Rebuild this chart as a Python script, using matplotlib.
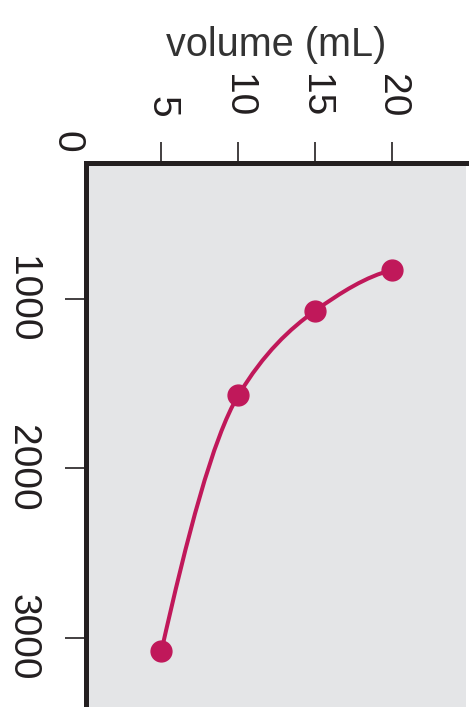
import matplotlib.pyplot as plt
from matplotlib.path import Path
from matplotlib.patches import PathPatch

plt.rcParams['font.family'] = ['Liberation Sans', 'DejaVu Sans']

# Boyle's law readings
volume = [5, 10, 15, 20]           # mL
pressure = [3080, 1570, 1070, 830]
volume_ticks = [5, 10, 15, 20]
pressure_ticks = [1000, 2000, 3000]

line_color = '#C0185A'
ink = '#231F20'


def smooth_path(xs, ys):
    # monotone cubic (Fritsch-Carlson) through the readings, as Bezier segments
    n = len(xs)
    h = [xs[i + 1] - xs[i] for i in range(n - 1)]
    d = [(ys[i + 1] - ys[i]) / h[i] for i in range(n - 1)]
    m = [0.0] * n
    for i in range(1, n - 1):
        if d[i - 1] * d[i] > 0:
            w1 = 2 * h[i] + h[i - 1]
            w2 = h[i] + 2 * h[i - 1]
            m[i] = (w1 + w2) / (w1 / d[i - 1] + w2 / d[i])
    m[0] = ((2 * h[0] + h[1]) * d[0] - h[0] * d[1]) / (h[0] + h[1])
    m[-1] = ((2 * h[-1] + h[-2]) * d[-1] - h[-1] * d[-2]) / (h[-1] + h[-2])
    verts = [(xs[0], ys[0])]
    codes = [Path.MOVETO]
    for i in range(n - 1):
        k = h[i] / 3
        verts += [(xs[i] + k, ys[i] + k * m[i]),
                  (xs[i + 1] - k, ys[i + 1] - k * m[i + 1]),
                  (xs[i + 1], ys[i + 1])]
        codes += [Path.CURVE4] * 3
    return Path(verts, codes)


fig = plt.figure(figsize=(4.73, 7.07), dpi=100)
ax = fig.add_axes([86 / 473, 0.0, (466 - 86) / 473, (707 - 163) / 707])
ax.set_facecolor('#E4E5E7')

ax.add_patch(PathPatch(smooth_path(volume, pressure), facecolor='none',
                       edgecolor=line_color, lw=2.9, zorder=2))
ax.plot(volume, pressure, 'o', color=line_color, ms=15, zorder=3)

ax.set_xlim(0.1, 24.8)
ax.set_ylim(3410, 198)

for side in ['right', 'bottom']:
    ax.spines[side].set_visible(False)
for side in ['left', 'top']:
    ax.spines[side].set_linewidth(3.6)
    ax.spines[side].set_color(ink)

ax.xaxis.tick_top()
ax.xaxis.set_label_position('top')
ax.set_xticks(volume_ticks)
ax.set_yticks(pressure_ticks)
ax.tick_params(axis='both', direction='out', length=15, width=1.2, color=ink,
               labelsize=28, labelcolor=ink, pad=18)
for lab in ax.get_xticklabels():
    lab.set_rotation(-90)
for lab in ax.get_yticklabels():
    lab.set_rotation(-90)
    lab.set_va('center')

ax.set_xlabel('volume (mL)', fontsize=28.5, color='#333333', labelpad=13)

# shared origin label at the corner
ax.annotate('0', xy=(0, 1), xycoords='axes fraction', xytext=(-14, 15),
            textcoords='offset points', rotation=-90, fontsize=28, color=ink,
            ha='center', va='center', annotation_clip=False)

fig.savefig('out.png', dpi=100)
